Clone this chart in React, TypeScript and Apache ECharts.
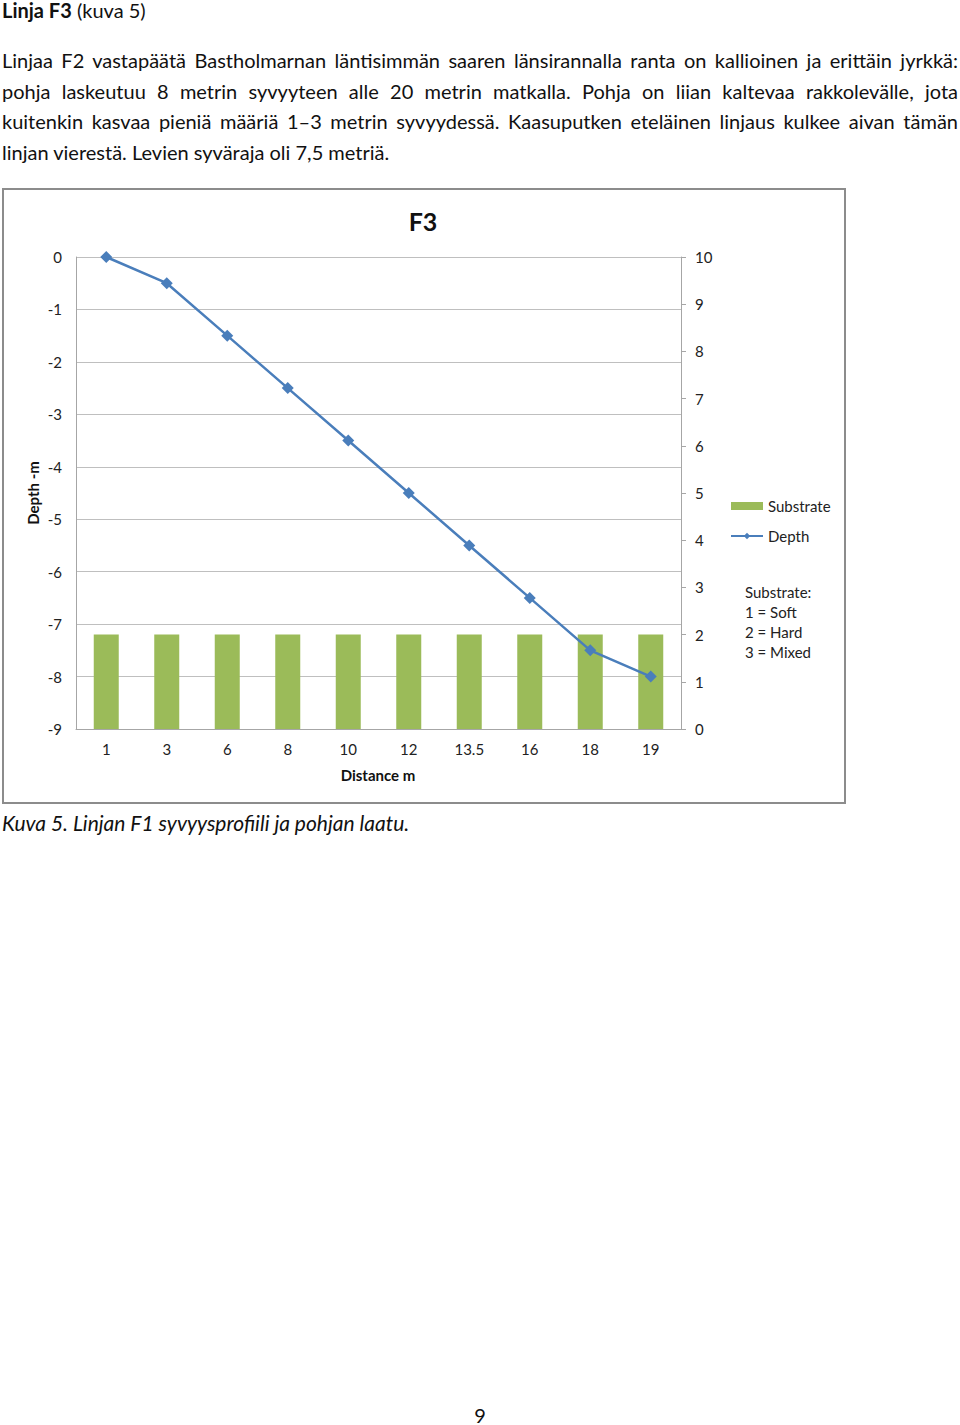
import React, { useEffect, useRef } from "react";
import * as echarts from "echarts";

const categories = ["1", "3", "6", "8", "10", "12", "13.5", "16", "18", "19"];
const depthValues = [0, -0.5, -1.5, -2.5, -3.5, -4.5, -5.5, -6.5, -7.5, -8];
const substrateValues = [2, 2, 2, 2, 2, 2, 2, 2, 2, 2];
const leftTicks = { min: -9, max: 0, interval: 1 };
const rightTicks = { min: 0, max: 10, interval: 1 };
const noteLines = ["Substrate:", "1 = Soft", "2 = Hard", "3 = Mixed"];

const paragraphLines = [
  "Linjaa F2 vastapäätä Bastholmarnan läntisimmän saaren länsirannalla ranta on kallioinen ja erittäin jyrkkä:",
  "pohja laskeutuu 8 metrin syvyyteen alle 20 metrin matkalla. Pohja on liian kaltevaa rakkolevälle, jota",
  "kuitenkin kasvaa pieniä määriä 1–3 metrin syvyydessä. Kaasuputken eteläinen linjaus kulkee aivan tämän",
  "linjan vierestä. Levien syväraja oli 7,5 metriä.",
];
const lineCenters = [60, 91, 121, 152];

const FONT = "Lato, 'Open Sans', sans-serif";

function Chart() {
  const ref = useRef<HTMLDivElement>(null);
  useEffect(() => {
    if (!ref.current) return;
    const chart = echarts.init(ref.current, null, { renderer: "svg" });
    const axisText = { color: "#222", fontSize: 15, fontFamily: FONT };
    chart.setOption({
      animation: false,
      textStyle: { fontFamily: FONT },
      grid: { left: 72, right: 163, top: 67, bottom: 73, containLabel: false },
      xAxis: {
        type: "category",
        data: categories,
        boundaryGap: true,
        axisLine: { onZero: false, lineStyle: { color: "#a6a6a6", width: 1 } },
        axisTick: { show: false },
        axisLabel: { ...axisText, margin: 12 },
        splitLine: { show: false },
      },
      yAxis: [
        {
          type: "value",
          position: "left",
          min: leftTicks.min,
          max: leftTicks.max,
          interval: leftTicks.interval,
          axisLine: { show: true, lineStyle: { color: "#a6a6a6", width: 1 } },
          axisTick: { show: false },
          axisLabel: { ...axisText, margin: 14 },
          splitLine: { show: true, lineStyle: { color: "#bfbfbf", width: 1 } },
        },
        {
          type: "value",
          position: "right",
          min: rightTicks.min,
          max: rightTicks.max,
          interval: rightTicks.interval,
          axisLine: { show: true, lineStyle: { color: "#a6a6a6", width: 1 } },
          axisTick: { show: true, length: 5, lineStyle: { color: "#a6a6a6" } },
          axisLabel: { ...axisText, margin: 14 },
          splitLine: { show: false },
        },
      ],
      legend: {
        orient: "vertical",
        left: 726,
        top: 308,
        padding: 0,
        itemWidth: 32,
        itemHeight: 8,
        itemGap: 14,
        itemTextGap: 1,
        textStyle: { color: "#222", fontSize: 15, lineHeight: 16, fontFamily: FONT },
        data: [{ name: "Substrate", icon: "rect" }, { name: "Depth" }],
      },
      series: [
        {
          name: "Substrate",
          type: "bar",
          yAxisIndex: 1,
          data: substrateValues,
          barWidth: 25,
          itemStyle: { color: "#9bbb59" },
          z: 2,
        },
        {
          name: "Depth",
          type: "line",
          yAxisIndex: 0,
          data: depthValues,
          symbol: "diamond",
          symbolSize: 12,
          lineStyle: { color: "#4a7ebb", width: 2.5 },
          itemStyle: { color: "#4a7ebb" },
          z: 3,
        },
      ],
      graphic: [
        {
          type: "text",
          x: 419,
          y: 31,
          style: {
            text: "F3",
            fontSize: 25,
            fontWeight: "bold",
            fontFamily: FONT,
            fill: "#111",
            align: "center",
            verticalAlign: "middle",
          },
        },
        {
          type: "text",
          x: 374,
          y: 585,
          style: {
            text: "Distance m",
            fontSize: 15,
            fontWeight: "bold",
            fontFamily: FONT,
            fill: "#111",
            align: "center",
            verticalAlign: "middle",
          },
        },
        {
          type: "text",
          x: 29,
          y: 303,
          rotation: Math.PI / 2,
          style: {
            text: "Depth -m",
            fontSize: 15,
            fontWeight: "bold",
            fontFamily: FONT,
            fill: "#111",
            align: "center",
            verticalAlign: "middle",
          },
        },
        {
          type: "text",
          x: 741,
          y: 392,
          style: {
            text: noteLines.join("\n"),
            fontSize: 15,
            lineHeight: 20,
            fontFamily: FONT,
            fill: "#222",
            align: "left",
            verticalAlign: "top",
          },
        },
      ],
    });
    return () => chart.dispose();
  }, []);
  return <div ref={ref} style={{ width: 840, height: 612 }} />;
}

export default function App() {
  const lineStyle = (center: number, justify: boolean, size = 20): React.CSSProperties => ({
    position: "absolute",
    left: 2,
    width: 956,
    top: center - 13,
    height: 26,
    lineHeight: "26px",
    fontSize: size,
    fontFamily: FONT,
    color: "#111",
    textAlign: justify ? "justify" : "left",
    textAlignLast: justify ? "justify" : "left",
    whiteSpace: "nowrap",
  } as React.CSSProperties);
  return (
    <div style={{ position: "absolute", left: 0, top: 0, width: 960, height: 1425, background: "#fff" }}>
      <div style={{ ...lineStyle(10, false) }}>
        <b>Linja F3</b> (kuva 5)
      </div>
      {paragraphLines.map((t, i) => (
        <div key={i} style={{ ...lineStyle(lineCenters[i], i < paragraphLines.length - 1), whiteSpace: "normal" }}>
          {t}
        </div>
      ))}
      <div
        style={{
          position: "absolute",
          left: 2,
          top: 188,
          width: 844,
          height: 616,
          border: "2px solid #8c8c8c",
          boxSizing: "border-box",
          background: "#fff",
        }}
      >
        <Chart />
      </div>
      <div style={{ ...lineStyle(823, false, 21), fontStyle: "italic" }}>
        Kuva 5. Linjan F1 syvyysprofiili ja pohjan laatu.
      </div>
      <div
        style={{
          position: "absolute",
          left: 0,
          width: 960,
          top: 1402,
          height: 26,
          lineHeight: "26px",
          textAlign: "center",
          fontSize: 20,
          fontFamily: FONT,
          color: "#111",
        }}
      >
        9
      </div>
    </div>
  );
}
